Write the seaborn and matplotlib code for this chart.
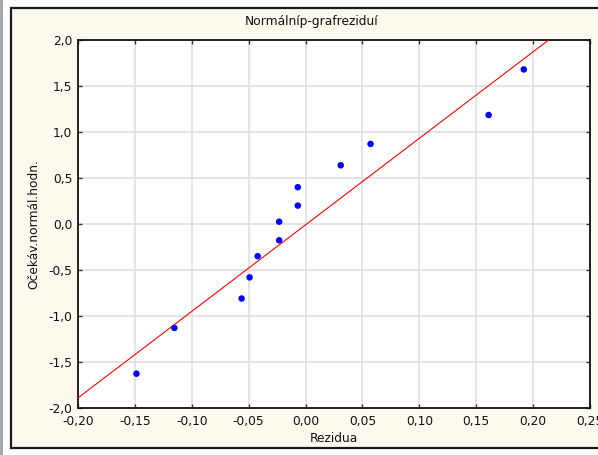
import matplotlib
matplotlib.use("Agg")
import matplotlib.pyplot as plt
import matplotlib.patches as mpatches
import seaborn as sns
import pandas as pd

# Data
residuals = [-0.1486, -0.1153, -0.0562, -0.0492, -0.0421, -0.0232, -0.0232,
             -0.0068, -0.0068, 0.0309, 0.0571, 0.1609, 0.1918]
expected = [-1.627, -1.13, -0.81, -0.58, -0.35, -0.177, 0.025,
            0.20, 0.40, 0.638, 0.87, 1.185, 1.68]
line_x = [-0.20, 0.25]
line_y = [-1.89, 2.342]
x_ticks = [-0.20, -0.15, -0.10, -0.05, 0.00, 0.05, 0.10, 0.15, 0.20, 0.25]
y_ticks = [-2.0, -1.5, -1.0, -0.5, 0.0, 0.5, 1.0, 1.5, 2.0]
title = "Normálníp-grafreziduí"
xlabel = "Rezidua"
ylabel = "Očekáv.normál.hodn."

sns.set_theme(style="whitegrid")
plt.rcParams['font.family'] = ['DejaVu Sans']

W, H = 598, 455
FS = 8.8
fig = plt.figure(figsize=(W / 100, H / 100), dpi=100)
fig.patch.set_facecolor('white')

# outer cream frame
fig.patches.append(mpatches.Rectangle((11 / W, 1 - 448 / H), (W + 20 - 11) / W, (448 - 8) / H,
                                      transform=fig.transFigure, facecolor='#FDF9EE',
                                      edgecolor='#1a1a1a', linewidth=1.6, zorder=-2))
fig.patches.append(mpatches.Rectangle((0, 0), 3 / W, 1, transform=fig.transFigure,
                                      facecolor='#A8A8A8', edgecolor='none', zorder=-2))

ax = fig.add_axes([78 / W, 1 - 408 / H, (590 - 78) / W, (408 - 40) / H])
ax.set_facecolor('white')

df = pd.DataFrame({'x': residuals, 'y': expected})
ldf = pd.DataFrame({'x': line_x, 'y': line_y})
sns.lineplot(data=ldf, x='x', y='y', ax=ax, color='#FF0000', linewidth=0.8, zorder=3)
sns.scatterplot(data=df, x='x', y='y', ax=ax, color='#0000FF', s=22, edgecolor='none', zorder=4)

ax.set_xlim(-0.20, 0.25)
ax.set_ylim(-2.0, 2.0)
ax.set_xticks(x_ticks)
ax.set_yticks(y_ticks)
ax.set_xticklabels([f"{v:.2f}".replace('.', ',') for v in x_ticks], fontsize=FS)
ax.set_yticklabels([f"{v:.1f}".replace('.', ',') for v in y_ticks], fontsize=FS)
ax.grid(True, color='#DCDCDC', linewidth=1.1)
ax.tick_params(axis='both', which='both', direction='in', length=3, width=1, color='#333333',
               top=True, right=True, bottom=True, left=True, labelcolor='#111111')
ax.tick_params(axis='x', pad=5)
ax.tick_params(axis='y', pad=4)
for s in ax.spines.values():
    s.set_color('#111111')
    s.set_linewidth(1.3)
    s.set_visible(True)

ax.set_xlabel(xlabel, fontsize=FS, labelpad=3, color='#111111')
ax.set_ylabel(ylabel, fontsize=FS, labelpad=6, color='#111111')
fig.text(312 / W, 1 - 22 / H, title, ha='center', va='center', fontsize=FS, color='#111111')

fig.savefig('out.png', dpi=100)
